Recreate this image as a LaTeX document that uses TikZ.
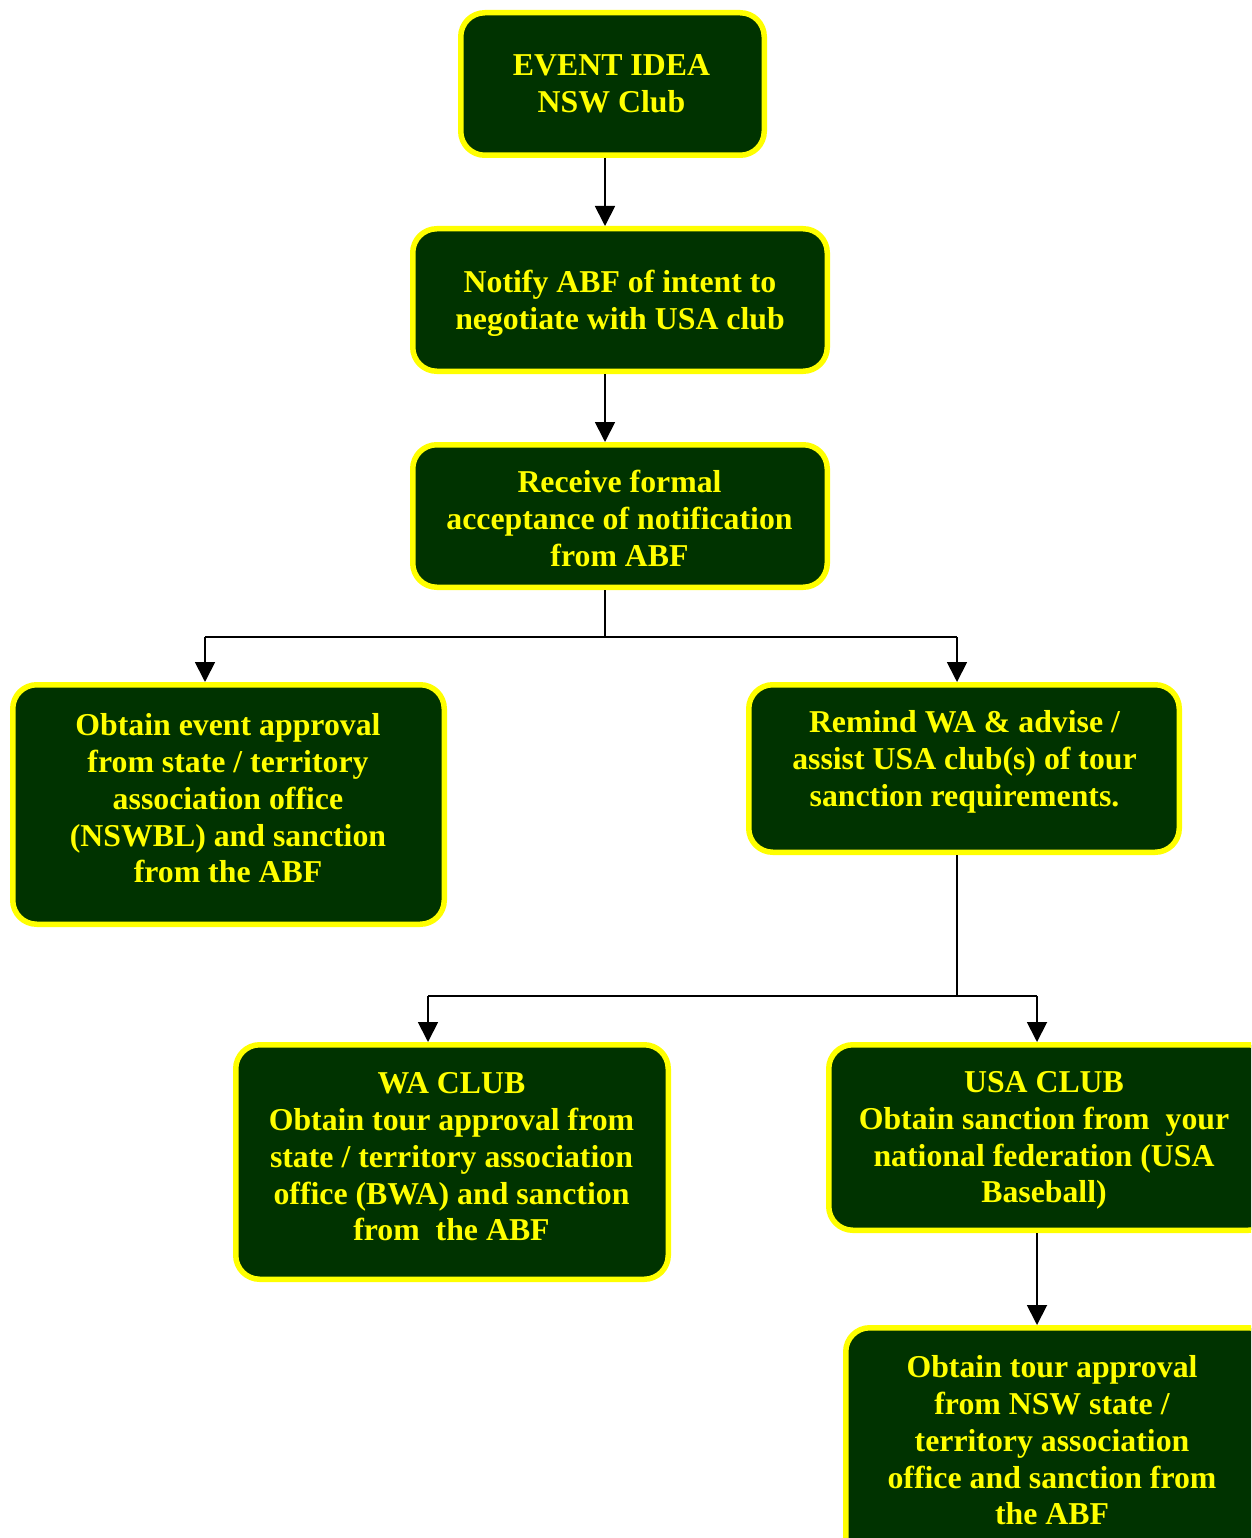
\documentclass[tikz,border=0pt]{standalone}
\usepackage{fontspec}
\setmainfont{Liberation Serif}
\usetikzlibrary{arrows.meta}
\definecolor{boxgreen}{RGB}{0,51,0}
\definecolor{boxyellow}{RGB}{255,255,0}
\tikzset{
  box/.style={draw=boxyellow, fill=boxgreen, line width=5.5pt, rounded corners=24pt, inner sep=0pt},
  txt/.style={text=boxyellow, font=\fontsize{31.8}{36.7}\selectfont\bfseries, align=center, inner sep=0pt},
  conn/.style={draw=black, line width=1.8pt},
  arr/.style={conn, -{Triangle[width=20pt,length=20pt]}}
}
\begin{document}
\begin{tikzpicture}[x=1pt,y=-1pt]
\useasboundingbox (0,0) rectangle (1251,1538);
\clip (0,0) rectangle (1251,1538);
\fill[white] (0,0) rectangle (1251,1538);
% boxes
\node[box, minimum width=303.5pt, minimum height=142.5pt] (b1) at (612.5,84) {};
\node[box, minimum width=414.5pt, minimum height=142.5pt] (b2) at (620,300) {};
\node[box, minimum width=414.5pt, minimum height=142.5pt] (b3) at (620,516) {};
\node[box, minimum width=431.5pt, minimum height=239.5pt] (b4) at (228.5,804.5) {};
\node[box, minimum width=430.5pt, minimum height=167.5pt] (b5) at (964,768.5) {};
\node[box, minimum width=432.5pt, minimum height=234.5pt] (b6) at (452,1162) {};
\node[box, minimum width=443.5pt, minimum height=185.5pt] (b7) at (1050.5,1137.5) {};
\node[box, minimum width=426.5pt, minimum height=234.5pt] (b8) at (1059,1445) {};
% texts
\node[txt] (t1) at (611.5,87) {\strut EVENT IDEA\\\strut NSW Club};
\node[txt] (t2) at (620,304) {\strut Notify ABF of intent to\\\strut negotiate with USA club};
\node[txt] (t3) at (619.5,522) {\strut Receive formal\\\strut acceptance of notification\\\strut from ABF};
\node[txt] (t4) at (228,802) {\strut Obtain event approval\\\strut from state / territory\\\strut association office\\\strut (NSWBL) and sanction\\\strut from the ABF};
\node[txt] (t5) at (964.5,762) {\strut Remind WA \& advise /\\\strut assist USA club(s) of tour\\\strut sanction requirements.};
\node[txt] (t6) at (451.5,1160) {\strut WA CLUB\\\strut Obtain tour approval from\\\strut state / territory association\\\strut office (BWA) and sanction\\\strut from\ \ the ABF};
\node[txt] (t7) at (1044,1140.5) {\strut USA CLUB\\\strut Obtain sanction from\ \ your\\\strut national federation (USA\\\strut Baseball)};
\node[txt] (t8) at (1052,1444) {\strut Obtain tour approval\\\strut from NSW state /\\\strut territory association\\\strut office and sanction from\\\strut the ABF};
% junction coordinates
\coordinate (cA) at (605,637);
\coordinate (cL) at (205,637);
\coordinate (cR) at (957,637);
\coordinate (cB) at (957,996);
\coordinate (cBL) at (428,996);
\coordinate (cBR) at (1037,996);
% connectors
\draw[arr] (b1.south -| cA) -- (b2.north -| cA);
\draw[arr] (b2.south -| cA) -- (b3.north -| cA);
\draw[conn] (b3.south -| cA) -- (cA);
\draw[conn] (cL) -- (cR);
\draw[arr] (cL) -- (b4.north -| cL);
\draw[arr] (cR) -- (b5.north -| cR);
\draw[conn] (b5.south -| cB) -- (cB);
\draw[conn] (cBL) -- (cBR);
\draw[arr] (cBL) -- (b6.north -| cBL);
\draw[arr] (cBR) -- (b7.north -| cBR);
\draw[arr] (b7.south -| cBR) -- (b8.north -| cBR);
\end{tikzpicture}
\end{document}
